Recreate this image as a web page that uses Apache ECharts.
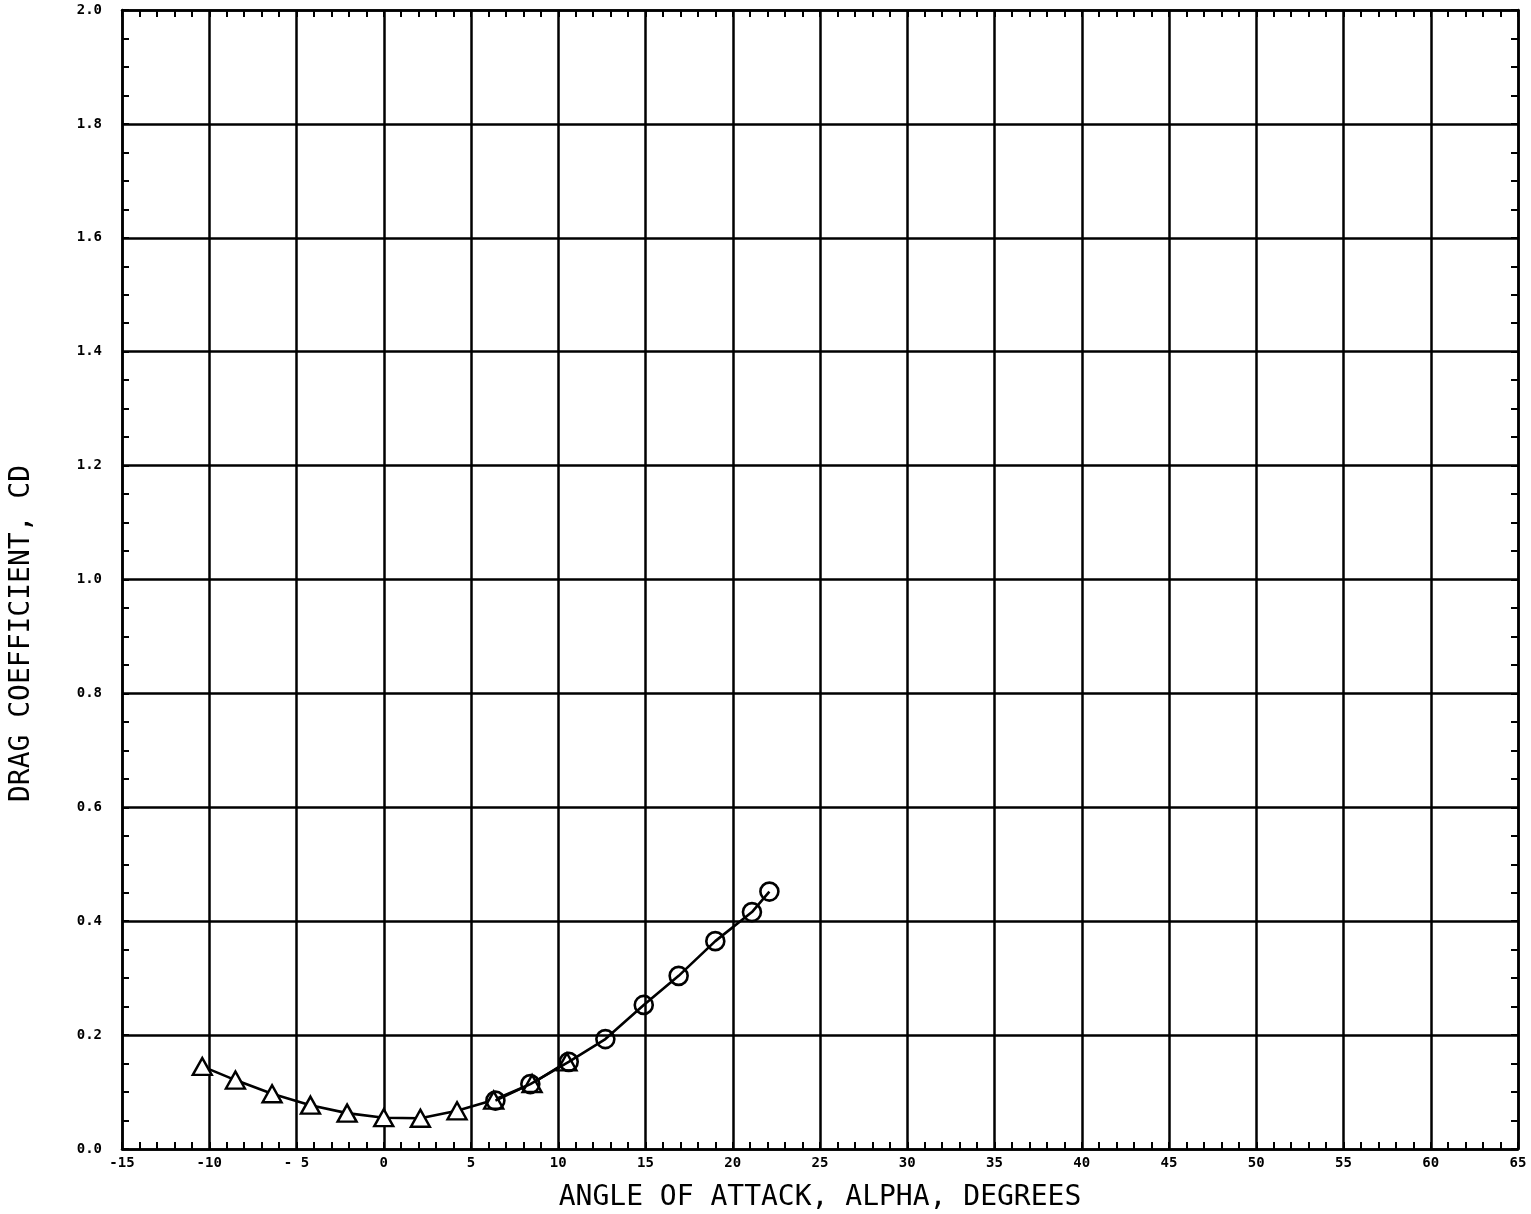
<!DOCTYPE html>
<html>
<head>
<meta charset="utf-8">
<script src="https://cdn.jsdelivr.net/npm/echarts@6/dist/echarts.min.js"></script>
<style>
html,body{margin:0;padding:0;background:#fff;overflow:hidden;}
#chart{width:1531px;height:1214px;}
</style>
</head>
<body>
<div id="chart"></div>
<script>
// Triangle series (alpha, CD)
const triAlpha = [-10.4, -8.5, -6.4, -4.2, -2.1, 0.0, 2.1, 4.2, 6.3, 8.5, 10.5];
const triCD    = [0.145, 0.121, 0.097, 0.077, 0.063, 0.055, 0.054, 0.067, 0.086, 0.115, 0.153];
// Circle series (alpha, CD)
const cirAlpha = [6.4, 8.4, 10.6, 12.7, 14.9, 16.9, 19.0, 21.1, 22.1];
const cirCD    = [0.085, 0.114, 0.153, 0.193, 0.253, 0.304, 0.365, 0.416, 0.452];
// Tick labels
const xTickValues = [-15, -10, -5, 0, 5, 10, 15, 20, 25, 30, 35, 40, 45, 50, 55, 60, 65];
const xTickLabels = ['-15', '-10', '- 5', '0', '5', '10', '15', '20', '25', '30', '35', '40', '45', '50', '55', '60', '65'];
const yTickValues = [0, 0.2, 0.4, 0.6, 0.8, 1.0, 1.2, 1.4, 1.6, 1.8, 2.0];
const yTickLabels = ['0.0', '0.2', '0.4', '0.6', '0.8', '1.0', '1.2', '1.4', '1.6', '1.8', '2.0'];
const xTitle = 'ANGLE OF ATTACK, ALPHA, DEGREES';
const yTitle = 'DRAG COEFFICIENT, CD';

function zip(a, b) { return a.map((v, i) => [v, b[i]]); }
function lookup(vals, labels, v) {
  for (let i = 0; i < vals.length; i++) if (Math.abs(vals[i] - v) < 1e-6) return labels[i];
  return '';
}

const lineStyleAxis = { color: '#000', width: 2.5 };
const tickFont = { fontFamily: 'DejaVu Sans Mono', fontWeight: 'bold', fontSize: 14, color: '#000' };
const nameFont = { fontFamily: 'DejaVu Sans Mono', fontSize: 28, color: '#000' };

function xAxisCfg(pos, showLabel) {
  return {
    type: 'value', position: pos, min: -15, max: 65, interval: 5,
    axisLine: { show: true, onZero: false, lineStyle: lineStyleAxis },
    axisTick: { show: true, inside: true, length: 7, lineStyle: { color: '#000', width: 2 } },
    minorTick: { show: true, splitNumber: 5, length: 7, lineStyle: { color: '#000', width: 2 } },
    splitLine: { show: showLabel, lineStyle: { color: '#000', width: 2.5 } },
    axisLabel: Object.assign({ show: showLabel, margin: 7, formatter: v => lookup(xTickValues, xTickLabels, v) }, tickFont),
    name: showLabel ? xTitle : '', nameLocation: 'middle', nameGap: 35,
    nameTextStyle: nameFont
  };
}
function yAxisCfg(pos, showLabel) {
  return {
    type: 'value', position: pos, min: 0, max: 2, interval: 0.2,
    axisLine: { show: true, onZero: false, lineStyle: lineStyleAxis },
    axisTick: { show: true, inside: true, length: 7, lineStyle: { color: '#000', width: 2 } },
    minorTick: { show: true, splitNumber: 4, length: 7, lineStyle: { color: '#000', width: 2 } },
    splitLine: { show: showLabel, lineStyle: { color: '#000', width: 2.5 } },
    axisLabel: Object.assign({ show: showLabel, margin: 20, formatter: v => lookup(yTickValues, yTickLabels, v) }, tickFont),
    name: showLabel ? yTitle : '', nameLocation: 'middle', nameGap: 86, nameRotate: 90,
    nameTextStyle: Object.assign({ padding: [0, 108, 0, 0] }, nameFont)
  };
}

const chart = echarts.init(document.getElementById('chart'), null, { renderer: 'canvas' });
chart.setOption({
  backgroundColor: '#fff',
  animation: false,
  grid: { left: 122, right: 13, top: 10, bottom: 65, containLabel: false, outerBoundsMode: 'none' },
  xAxis: [xAxisCfg('bottom', true), xAxisCfg('top', false)],
  yAxis: [yAxisCfg('left', true), yAxisCfg('right', false)],
  series: [
    {
      type: 'line', xAxisIndex: 0, yAxisIndex: 0,
      data: zip(triAlpha, triCD),
      symbol: 'triangle', symbolSize: [19, 17],
      itemStyle: { color: '#fff', borderColor: '#000', borderWidth: 2.4 },
      lineStyle: { color: '#000', width: 2.6 },
      z: 5
    },
    {
      type: 'line', xAxisIndex: 0, yAxisIndex: 0,
      data: zip(cirAlpha, cirCD),
      symbol: 'circle', symbolSize: 18,
      itemStyle: { color: 'rgba(255,255,255,0)', borderColor: '#000', borderWidth: 2.6 },
      lineStyle: { color: '#000', width: 2.6 },
      z: 6
    }
  ]
});
</script>
</body>
</html>
